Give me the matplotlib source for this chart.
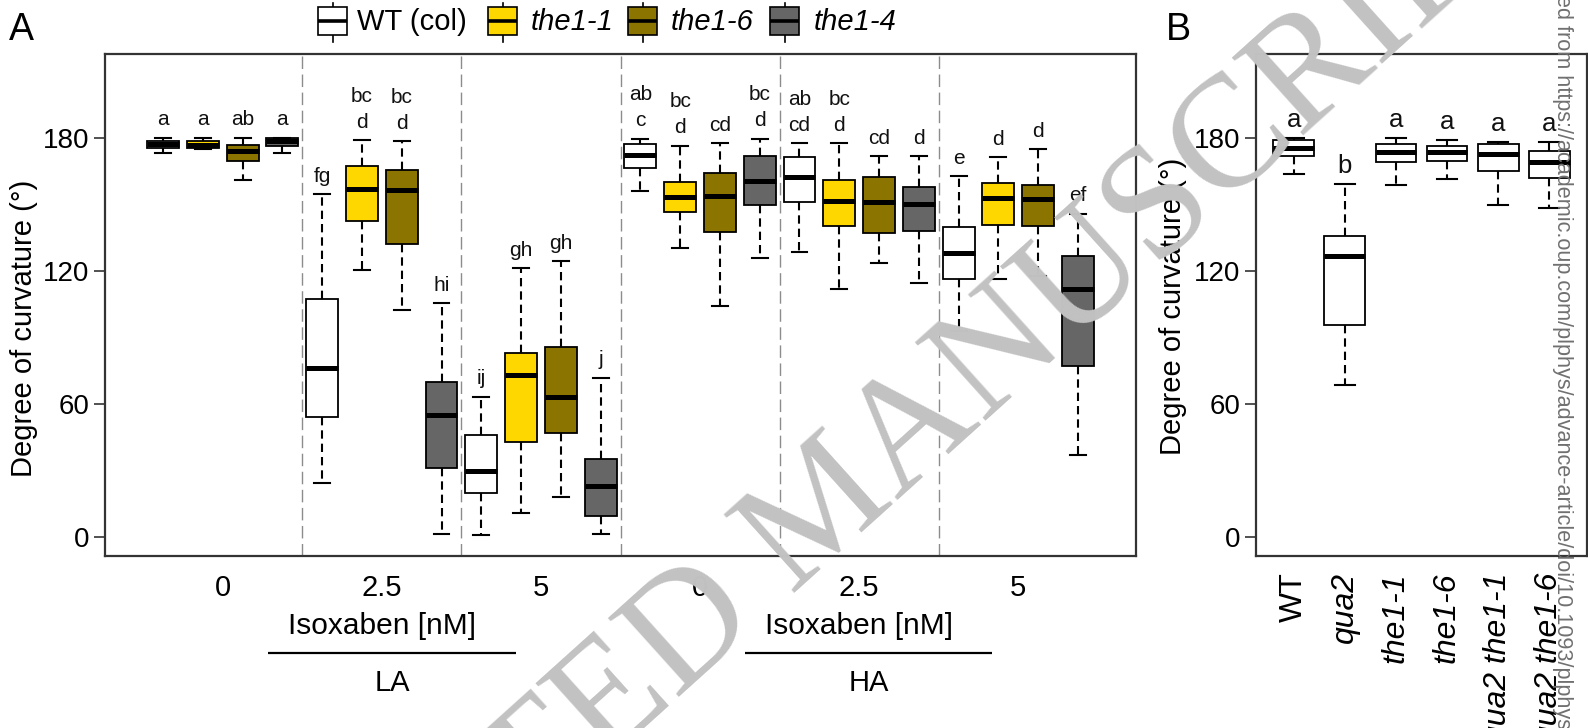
import matplotlib
matplotlib.use('Agg')
import matplotlib.pyplot as plt
import matplotlib.transforms as mtrans
from matplotlib.patches import Rectangle
from matplotlib.lines import Line2D

plt.rcParams['font.family'] = ['Liberation Sans', 'DejaVu Sans']

# ---------------- data ----------------
genotypes = ['WT (col)', 'the1-1', 'the1-6', 'the1-4']
geno_colors = ['#FFFFFF', '#FFD700', '#8B7500', '#666666']
conditions = ['LA', 'HA']
doses = ['0', '2.5', '5']

# Panel A: order LA0, LA2.5, LA5, HA0, HA2.5, HA5; each WT, the1-1, the1-6, the1-4
a_whislo = [173.5, 175.3, 161.3, 173.5,
            24.2, 120.6, 102.3, 1.1,
            0.7, 10.9, 18.2, 1.5,
            156.1, 130.7, 104.5, 125.9,
            128.6, 111.9, 123.9, 114.9,
            93.2, 116.5, 118.0, 36.9]
a_q1 = [175.9, 175.6, 169.9, 176.4,
        54.0, 142.9, 132.5, 31.2,
        19.8, 42.9, 47.0, 9.3,
        166.6, 146.6, 137.7, 150.0,
        151.5, 140.5, 137.5, 138.4,
        116.4, 141.0, 140.5, 77.3]
a_med = [177.6, 177.2, 174.5, 178.7,
         76.3, 157.2, 156.9, 55.1,
         29.9, 73.2, 63.3, 22.8,
         172.4, 153.5, 153.8, 160.6,
         162.4, 151.9, 151.2, 150.3,
         128.2, 153.1, 152.6, 111.9]
a_q3 = [178.7, 178.7, 177.2, 180.0,
        107.6, 167.5, 165.7, 69.9,
        46.2, 83.3, 85.7, 35.3,
        177.7, 160.3, 164.4, 172.2,
        171.6, 161.1, 162.6, 158.2,
        139.9, 159.9, 158.8, 127.0]
a_whishi = [180.3, 180.3, 180.3, 180.3,
            154.8, 179.2, 178.9, 105.5,
            63.3, 121.5, 124.7, 71.9,
            179.9, 176.8, 178.0, 179.9,
            178.0, 178.0, 171.9, 171.9,
            162.9, 171.6, 175.2, 146.0]
a_letters = ['a', 'a', 'ab', 'a',
             'fg', 'bc\nd', 'bc\nd', 'hi',
             'ij', 'gh', 'gh', 'j',
             'ab\nc', 'bc\nd', 'cd', 'bc\nd',
             'ab\ncd', 'bc\nd', 'cd', 'd',
             'e', 'd', 'd', 'ef']

# Panel B
b_genotypes = ['WT', 'qua2', 'the1-1', 'the1-6', 'qua2 the1-1', 'qua2 the1-6']
b_whislo = [164.0, 68.6, 159.1, 161.8, 150.1, 148.5]
b_q1 = [172.3, 95.6, 169.2, 170.0, 165.3, 162.2]
b_med = [175.6, 127.0, 174.0, 173.7, 173.1, 169.5]
b_q3 = [179.2, 136.1, 177.3, 176.4, 177.3, 174.2]
b_whishi = [180.2, 159.4, 180.0, 179.4, 178.3, 178.6]
b_letters = ['a', 'b', 'a', 'a', 'a', 'a']

yticks = [0, 60, 120, 180]

# ---------------- figure ----------------
W, H = 1588, 728
fig = plt.figure(figsize=(W / 100, H / 100), dpi=100)
px = mtrans.Affine2D().scale(1 / W, -1 / H).translate(0, 1) + fig.transFigure

def fr(l, t, r, b):
    return [l / W, 1 - b / H, (r - l) / W, (b - t) / H]

axA = fig.add_axes(fr(105, 53.5, 1136, 555.5))
axB = fig.add_axes(fr(1256, 53.5, 1587, 555.5))

spine_col = '#333333'
box_lw = 1.3
whisk_style = (0, (4, 2.4))

def draw_boxes(ax, whislo, q1, med, q3, whishi, colors):
    stats = []
    for i in range(len(med)):
        stats.append(dict(whislo=whislo[i], q1=q1[i], med=med[i], q3=q3[i],
                          whishi=whishi[i], fliers=[]))
    pos = list(range(1, len(med) + 1))
    res = ax.bxp(stats, positions=pos, widths=0.8, patch_artist=True,
                 showfliers=False,
                 boxprops=dict(edgecolor='black', linewidth=box_lw),
                 medianprops=dict(color='black', linewidth=3.6, solid_capstyle='butt'),
                 whiskerprops=dict(color='black', linewidth=1.5, linestyle=whisk_style),
                 capprops=dict(color='black', linewidth=1.5),
                 manage_ticks=False)
    for patch, c in zip(res['boxes'], colors):
        patch.set_facecolor(c)
    return pos

# Panel A
colorsA = [geno_colors[i % 4] for i in range(len(a_med))]
posA = draw_boxes(axA, a_whislo, a_q1, a_med, a_q3, a_whishi, colorsA)
axA.set_xlim(-0.46, 25.46)
axA.set_ylim(-8.4, 218.4)
for k in range(1, 6):
    axA.axvline(4 * k + 0.5, color='#8c8c8c', lw=1.0, linestyle=(0, (9, 4)), zorder=0)

def put_letters(ax, pos, whishi, letters, fs, base_off, step):
    for p, w, lab in zip(pos, whishi, letters):
        lines = lab.split('\n')
        for k, ln in enumerate(reversed(lines)):
            ax.text(p, w + base_off + k * step, ln, ha='center', va='baseline',
                    fontsize=fs, color='#111111')

put_letters(axA, posA, a_whishi, a_letters, 15, 5.6, 11.7)

group_centers = [4 * g + 2.5 for g in range(6)]
axA.set_xticks(group_centers)
axA.set_xticklabels(doses * 2)
axA.tick_params(axis='x', length=0, pad=13, labelsize=21)

xt = axA.get_xaxis_transform()
def ay(ypx):
    return (555.5 - ypx) / 502.0
for ci, cond in enumerate(conditions):
    cx = group_centers[1 + 3 * ci]
    axA.text(cx, ay(626), 'Isoxaben [nM]', transform=xt, ha='center', va='center',
             fontsize=21.5, clip_on=False)
    x0 = [3.64, 15.63][ci]
    x1 = [9.87, 21.84][ci]
    axA.plot([x0, x1], [ay(652.5), ay(652.5)], transform=xt, color='black', lw=1.6,
             clip_on=False, solid_capstyle='butt')
    axA.text((x0 + x1) / 2, ay(683), cond, transform=xt, ha='center', va='center',
             fontsize=21, clip_on=False)

# Panel B
posB = draw_boxes(axB, b_whislo, b_q1, b_med, b_q3, b_whishi, ['#FFFFFF'] * 6)
axB.set_xlim(0.26, 6.74)
axB.set_ylim(-8.4, 218.4)
put_letters(axB, posB, b_whishi, b_letters, 18.5, 5.0, 12)
axB.set_xticks(posB)
axB.set_xticklabels(b_genotypes, rotation=90)
for lab in axB.get_xticklabels()[1:]:
    lab.set_fontstyle('italic')
axB.tick_params(axis='x', length=0, pad=12, labelsize=23)

for ax in (axA, axB):
    ax.set_yticks(yticks)
    ax.tick_params(axis='y', direction='out', length=8, width=1.2, pad=3,
                   labelsize=20, color=spine_col)
    for s in ax.spines.values():
        s.set_color(spine_col)
        s.set_linewidth(1.6)

# y labels
fig.text(24 / W, 1 - 328 / H, 'Degree of curvature (°)', rotation=90,
         ha='center', va='center', fontsize=21)
fig.text(1173 / W, 1 - 306 / H, 'Degree of curvature (°)', rotation=90,
         ha='center', va='center', fontsize=21)

# panel letters
fig.text(9 / W, 1 - 40 / H, 'A', fontsize=27, ha='left', va='baseline')
fig.text(1166 / W, 1 - 40 / H, 'B', fontsize=27, ha='left', va='baseline')

# legend (boxplot symbols)
leg_x = [318, 488, 628, 770]
leg_tx = [357, 531, 671, 814]
for i, g in enumerate(genotypes):
    x = leg_x[i]
    wbox = 29
    fig.add_artist(Line2D([x + wbox / 2, x + wbox / 2], [3, 42], transform=px,
                          color='black', lw=1.2, zorder=1))
    fig.add_artist(Rectangle((x, 7), wbox, 28, transform=px, facecolor=geno_colors[i],
                             edgecolor='black', lw=1.2, zorder=2))
    fig.add_artist(Line2D([x, x + wbox], [21, 21], transform=px, color='black',
                          lw=2.6, zorder=3, solid_capstyle='butt'))
    fig.text(leg_tx[i] / W, 1 - 22 / H, g, fontsize=21, ha='left', va='center',
             style='normal' if i == 0 else 'italic')

# watermark
fig.text(826 / W, 1 - 512 / H, 'ACCEPTED MANUSCRIPT', rotation=42,
         rotation_mode='anchor', ha='center', va='center', fontsize=115,
         family=['Liberation Serif', 'DejaVu Serif'], color='#c2c2c2', zorder=10)

# side download note
fig.text(1562 / W, 1 - (-101) / H,
         'Downloaded from https://academic.oup.com/plphys/advance-article/doi/10.1093/plphys/kiab',
         rotation=-90, rotation_mode='anchor', ha='left', va='center', fontsize=15.6,
         color='#707070', zorder=11)

fig.savefig('out.png', dpi=100)
